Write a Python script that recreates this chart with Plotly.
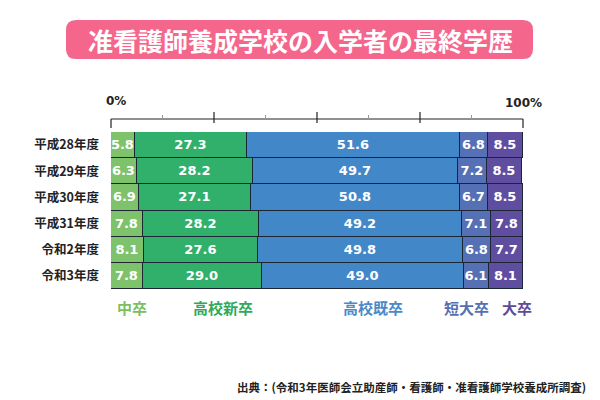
import plotly.graph_objects as go

years = ["平成28年度", "平成29年度", "平成30年度", "平成31年度", "令和2年度", "令和3年度"]
series_names = ["中卒", "高校新卒", "高校既卒", "短大卒", "大卒"]
chusotsu = [5.8, 6.3, 6.9, 7.8, 8.1, 7.8]
koko_shin = [27.3, 28.2, 27.1, 28.2, 27.6, 29.0]
koko_ki = [51.6, 49.7, 50.8, 49.2, 49.8, 49.0]
tandai = [6.8, 7.2, 6.7, 7.1, 6.8, 6.1]
daisotsu = [8.5, 8.5, 8.5, 7.8, 7.7, 8.1]
major_ticks = [25, 50, 75]
minor_ticks = [12.5, 37.5, 62.5, 87.5]

bar_colors = ["#7ec26b", "#31b06b", "#4288c9", "#5570b4", "#5f4ea0"]
label_colors = ["#7cbf5e", "#2eaa5c", "#4a8ac8", "#5470b0", "#5e4a9a"]

W, H = 600, 400
L, R, T, B = 111, 523, 132, 289
FONT = "Noto Sans CJK JP"
XMAX = 100.1

def px_x(px):
    return (px - L) / (R - L)

def px_y(py):
    return (B - py) / (B - T)

fig = go.Figure()
for name, vals, col in zip(series_names, [chusotsu, koko_shin, koko_ki, tandai, daisotsu], bar_colors):
    fig.add_trace(go.Bar(
        y=years, x=vals, name=name, orientation="h",
        marker=dict(color=col, line=dict(color="#1b2533", width=1.2)),
        text=[f"{v:.1f}" for v in vals], textposition="inside",
        insidetextanchor="middle", textangle=0,
        textfont=dict(color="white", size=13, family="DejaVu Sans", weight="bold"),
        hoverinfo="skip", cliponaxis=False,
    ))

shapes = []
# title box
x0, x1, y0, y1, r = px_x(66), px_x(533), px_y(20), px_y(59), 10
rx = r / (R - L)
ry = r / (B - T)
path = (f"M {x0+rx},{y0} L {x1-rx},{y0} Q {x1},{y0} {x1},{y0-ry} "
        f"L {x1},{y1+ry} Q {x1},{y1} {x1-rx},{y1} L {x0+rx},{y1} "
        f"Q {x0},{y1} {x0},{y1+ry} L {x0},{y0-ry} Q {x0},{y0} {x0+rx},{y0} Z")
shapes.append(dict(type="path", xref="paper", yref="paper", path=path,
                   fillcolor="#f4668b", line=dict(width=0), layer="below"))
# top axis line
shapes.append(dict(type="line", xref="paper", yref="paper", x0=0, x1=1,
                   y0=px_y(119), y1=px_y(119), line=dict(color="#222", width=1.2)))
for xv in [0, 1]:
    shapes.append(dict(type="line", xref="paper", yref="paper", x0=xv, x1=xv,
                       y0=px_y(119), y1=px_y(128), line=dict(color="#222", width=1.2)))
for xv in major_ticks:
    shapes.append(dict(type="line", xref="paper", yref="paper", x0=xv / 100, x1=xv / 100,
                       y0=px_y(112), y1=px_y(123), line=dict(color="#222", width=1.2)))
for xv in minor_ticks:
    shapes.append(dict(type="line", xref="paper", yref="paper", x0=xv / 100, x1=xv / 100,
                       y0=px_y(115), y1=px_y(119), line=dict(color="#999", width=1)))

annotations = [
    dict(text="准看護師養成学校の入学者の最終学歴", xref="paper", yref="paper",
         x=px_x(300), y=px_y(40), showarrow=False, xanchor="center", yanchor="middle",
         font=dict(color="white", size=25, family=FONT, weight="bold")),
    dict(text="0%", xref="paper", yref="paper", x=px_x(116), y=px_y(101), showarrow=False,
         xanchor="center", yanchor="middle",
         font=dict(color="#222", size=12, family="DejaVu Sans", weight="bold")),
    dict(text="100%", xref="paper", yref="paper", x=px_x(523), y=px_y(103), showarrow=False,
         xanchor="center", yanchor="middle",
         font=dict(color="#222", size=12, family="DejaVu Sans", weight="bold")),
    dict(text="出典：(令和3年医師会立助産師・看護師・准看護師学校養成所調査)",
         xref="paper", yref="paper", x=px_x(588), y=px_y(387), xanchor="right",
         yanchor="middle",
         showarrow=False, font=dict(color="#222", size=11.5, family=FONT, weight="bold")),
]
legend_x = [132, 223, 373, 466, 517]
for name, col, lx in zip(series_names, label_colors, legend_x):
    annotations.append(dict(text=name, xref="paper", yref="paper", x=px_x(lx), y=px_y(307),
                            showarrow=False, xanchor="center", yanchor="middle",
                            font=dict(color=col, size=15, family=FONT, weight="bold")))

fig.update_layout(
    width=W, height=H, barmode="stack", bargap=0,
    margin=dict(l=L, r=W - R, t=T, b=H - B, autoexpand=False),
    paper_bgcolor="white", plot_bgcolor="white",
    showlegend=False,
    uniformtext=dict(minsize=13, mode="show"),
    xaxis=dict(range=[0, XMAX], showgrid=False, zeroline=False, showticklabels=False,
               showline=False, ticks="", automargin=False, fixedrange=True),
    yaxis=dict(autorange="reversed", showgrid=False, showline=False, ticks="",
               ticklabelstandoff=11, automargin=False, fixedrange=True,
               tickfont=dict(color="#222", size=12.5, family=FONT, weight="bold")),
    shapes=shapes, annotations=annotations,
)
fig.write_html("out.html", config={"displayModeBar": False},
               post_script="document.body.style.margin='0';")
